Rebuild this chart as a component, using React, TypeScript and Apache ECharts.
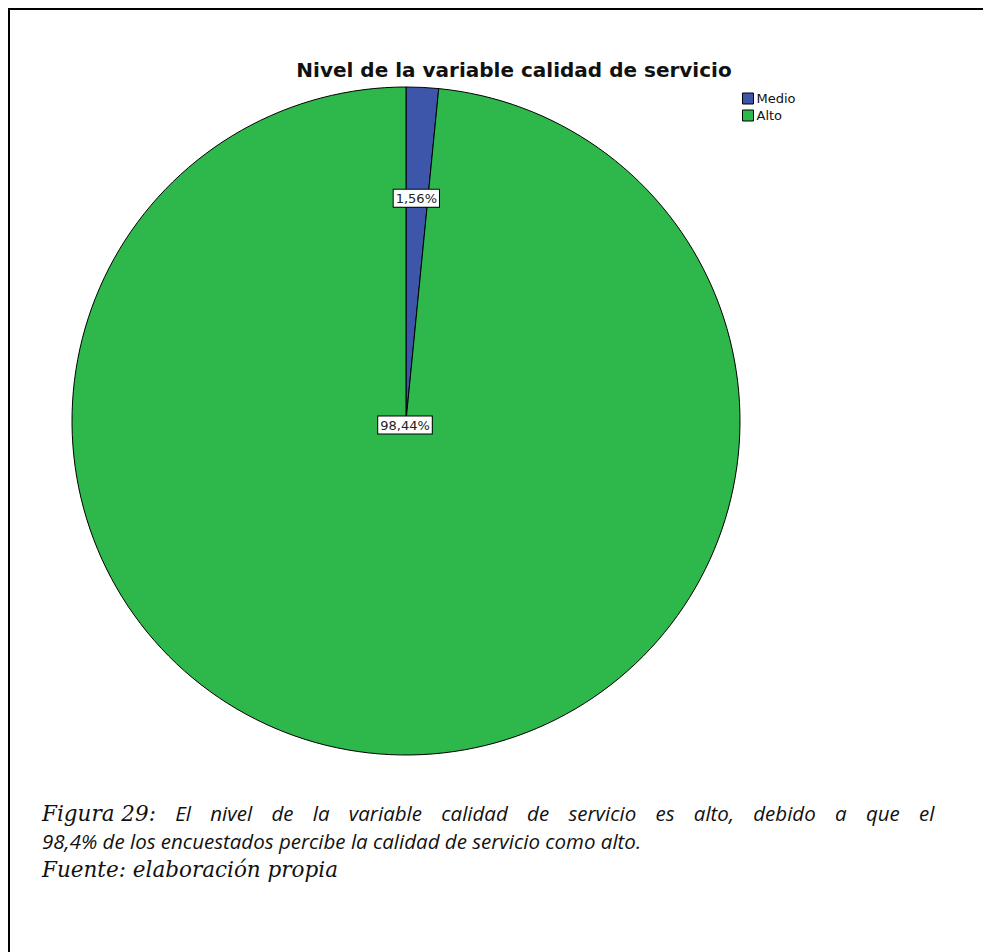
import React, { useEffect, useRef } from "react";
import * as echarts from "echarts";

const categories = ["Medio", "Alto"];
const counts = [1, 63];
const colors = ["#3D56AA", "#2EB84B"];
const titleText = "Nivel de la variable calidad de servicio";
const captionLine1a = "Figura 29:";
const captionLine1b = "El nivel de la variable calidad de servicio es alto, debido a que el";
const captionLine2 = "98,4% de los encuestados percibe la calidad de servicio como alto.";
const captionLine3 = "Fuente: elaboración propia";

const SERIF = { fontFamily: "DejaVu Serif", fontStyle: "italic", fontSize: 21.5 };
const SANS = { fontFamily: "Open Sans", fontStyle: "italic", fontSize: 20.5 };
const JUSTIFY_SPACE = 19.3;

export default function App() {
  const ref = useRef<HTMLDivElement>(null);
  useEffect(() => {
    if (!ref.current) return;
    const chart = echarts.init(ref.current, null, { renderer: "svg" });
    const labelBase = {
      show: true,
      formatter: (p: any) => p.percent.toFixed(2).replace(".", ",") + "%",
      backgroundColor: "#ffffff",
      borderColor: "#000000",
      borderWidth: 1,
      padding: [3, 2, 1, 2],
      fontSize: 13,
      fontFamily: "DejaVu Sans",
      color: "#222222",
    };

    const words = captionLine1b.split(" ");
    let line1 = "{s|" + captionLine1a + "}";
    words.forEach((w) => {
      line1 += "{sp| }{c|" + w + "}";
    });

    chart.setOption({
      animation: false,
      backgroundColor: "#ffffff",
      title: {
        text: titleText,
        left: 499,
        top: 45,
        textAlign: "center",
        textStyle: {
          fontFamily: "DejaVu Sans",
          fontWeight: "bold",
          fontSize: 20,
          color: "#111111",
        },
      },
      legend: {
        orient: "vertical",
        left: 727,
        top: 77,
        itemWidth: 11,
        itemHeight: 11,
        itemGap: 4,
        icon: "rect",
        data: categories,
        textStyle: { fontFamily: "DejaVu Sans", fontSize: 13, color: "#111111", padding: [0, 0, 0, -2] },
        itemStyle: { borderColor: "#000", borderWidth: 1 },
      },
      series: [
        {
          type: "pie",
          center: [396, 411],
          radius: 334,
          startAngle: 90,
          clockwise: true,
          avoidLabelOverlap: false,
          labelLine: { show: false },
          itemStyle: { borderColor: "#000000", borderWidth: 1 },
          emphasis: { disabled: true },
          data: [
            {
              name: categories[0],
              value: counts[0],
              itemStyle: { color: colors[0] },
              label: { ...labelBase, position: "inside", offset: [2, -53] },
            },
            {
              name: categories[1],
              value: counts[1],
              itemStyle: { color: colors[1] },
              label: { ...labelBase, position: "center", offset: [-1, 4] },
            },
          ],
        },
      ],
      graphic: [
        {
          type: "text",
          left: 32,
          top: 792,
          style: {
            text: line1 + "\n{c|" + captionLine2 + "}\n{s|" + captionLine3 + "}",
            rich: {
              s: { ...SERIF, lineHeight: 28, fill: "#111" },
              c: { ...SANS, lineHeight: 28, fill: "#111" },
              sp: { ...SANS, lineHeight: 28, width: JUSTIFY_SPACE, fill: "#111" },
            },
          },
        },
      ],
    });
    return () => chart.dispose();
  }, []);
  return (
    <div
      style={{
        position: "fixed",
        left: 8,
        top: 8,
        width: 975,
        height: 944,
        borderTop: "2px solid #000",
        borderLeft: "2px solid #000",
        boxSizing: "border-box",
        overflow: "hidden",
      }}
    >
      <div ref={ref} style={{ width: 973, height: 942 }} />
    </div>
  );
}
